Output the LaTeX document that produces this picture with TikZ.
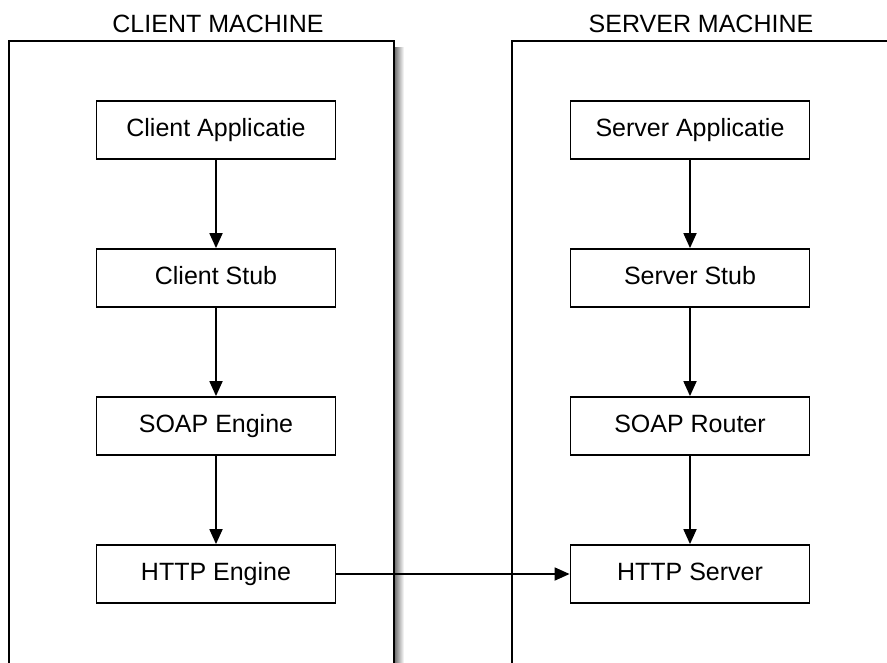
\documentclass[tikz,border=0pt]{standalone}
\usepackage{fontspec}
\setmainfont{Liberation Sans}
\usetikzlibrary{arrows.meta}
\begin{document}
\begin{tikzpicture}[x=1pt,y=-1pt,line width=1.8pt,
  layer/.style={draw,minimum width=239pt,minimum height=58pt,inner sep=0pt,text height=18pt,text depth=5pt,font=\fontsize{25}{29}\selectfont},
  title/.style={font=\fontsize{25}{29}\selectfont},
  flow/.style={-{Triangle[length=15pt,width=13pt]}}]
  \useasboundingbox (0,0) rectangle (887,662);
  \clip (0,0) rectangle (887,662);

  % machines
  \shade[left color=black!60,right color=white] (394,47) rectangle (404,670);
  \draw[fill=white] (9,41) rectangle (394,700);
  \draw (512,41) rectangle (900,700);
  \node[title] (cm) at (218,24) {CLIENT MACHINE};
  \node[title] (sm) at (701,24) {SERVER MACHINE};

  \node[layer] (capp) at (216,130) {Client Applicatie};\node[layer] (cstub) at (216,278) {Client Stub};
  \node[layer] (csoap) at (216,426) {SOAP Engine};\node[layer] (chttp) at (216,574) {HTTP Engine};
  \node[layer] (sapp) at (690,130) {Server Applicatie};\node[layer] (sstub) at (690,278) {Server Stub};
  \node[layer] (ssoap) at (690,426) {SOAP Router};\node[layer] (shttp) at (690,574) {HTTP Server};

  \draw[flow] (capp) -- (cstub);\draw[flow] (cstub) -- (csoap);\draw[flow] (csoap) -- (chttp);
  \draw[flow] (sapp) -- (sstub);\draw[flow] (sstub) -- (ssoap);\draw[flow] (ssoap) -- (shttp);
  \draw[flow] (chttp) -- (shttp);
\end{tikzpicture}
\end{document}
